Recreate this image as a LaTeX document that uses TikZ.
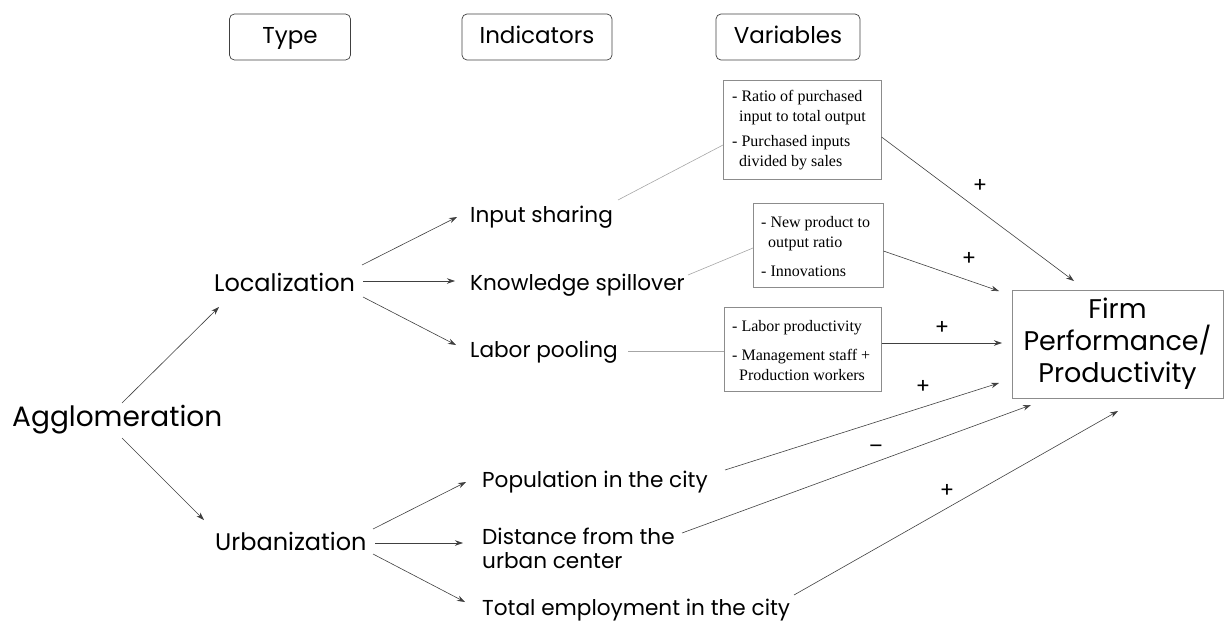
\documentclass[tikz,border=0pt]{standalone}
\usepackage{fontspec}
\setmainfont{Poppins}
\newfontfamily\serifbox{Liberation Serif}
\usetikzlibrary{arrows.meta}
\begin{document}
\begin{tikzpicture}[x=1pt,y=-1pt,
  header/.style={draw=black!75,rounded corners=5pt,line width=0.7pt,
    minimum width=121pt,minimum height=46pt,text height=17pt,text depth=5pt,
    font=\fontsize{23}{26}\selectfont},
  lbl/.style={anchor=base west,inner sep=0pt,font=\fontsize{21.6}{24}\selectfont},
  typ/.style={anchor=base west,inner sep=0pt,font=\fontsize{24}{28}\selectfont},
  varbox/.style={draw=black!45,line width=0.5pt,anchor=north west,inner sep=0pt},
  vartext/.style={anchor=north west,inner sep=0pt,align=left,
    font=\serifbox\fontsize{16}{20}\selectfont},
  arr/.style={draw=black!75,line width=0.6pt,-{Stealth[length=8pt,width=5.5pt]}},
  link/.style={draw=black!35,line width=0.6pt},
  sign/.style={inner sep=0pt,font=\fontsize{21}{21}\selectfont}]
\useasboundingbox (0,0) rectangle (1224,624);

% column headers
\node[header] (hType) at (290,37) {Type};
\node[header,minimum width=150pt] (hInd) at (537,37) {Indicators};
\node[header,minimum width=144pt] (hVar) at (788,37) {Variables};

% type level
\node[anchor=base west,inner sep=0pt,font=\fontsize{28}{32}\selectfont] (agg) at (12,426) {Agglomeration};
\node[typ] (loc) at (214,291) {Localization};
\node[typ] (urb) at (215,550) {Urbanization};

% indicators
\node[lbl] (inp) at (470,222) {Input sharing};
\node[lbl] (know) at (470,290) {Knowledge spillover};
\node[lbl] (lab) at (470,357) {Labor pooling};
\node[lbl] (pop) at (482,487) {Population in the city};
\node[lbl,anchor=west,align=left] (dist) at (482,548) {Distance from the\\urban center};
\node[lbl] (tot) at (482,615) {Total employment in the city};

% variable boxes
\node[varbox,minimum width=158pt,minimum height=99pt] (v1) at (723,80) {};
\node[vartext] (v1t) at (732,90)
  {- Ratio of purchased\\\hspace{7pt}input to total output\\[5pt]- Purchased inputs\\\hspace{7pt}divided by sales};
\node[varbox,minimum width=130pt,minimum height=84pt] (v2) at (753,203) {};
\node[vartext] (v2t) at (761,216)
  {- New product to\\\hspace{7pt}output ratio\\[9pt]- Innovations};
\node[varbox,minimum width=157pt,minimum height=84pt] (v3) at (724,307) {};
\node[vartext] (v3t) at (732,320)
  {- Labor productivity\\[9pt]- Management staff +\\\hspace{7pt}Production workers};

% outcome
\node[draw=black!45,line width=0.5pt,minimum width=211pt,minimum height=108pt,
  align=center,font=\fontsize{27}{32}\selectfont] (firm) at (1117.5,344)
  {Firm\\Performance/\\Productivity};

% arrow end points around the outcome box
\coordinate (e1) at (1074,281);
\coordinate (e2) at (999,291);
\coordinate (e3) at (1002,343);
\coordinate (e4) at (999,383);
\coordinate (e5) at (1031,405);
\coordinate (e6) at (1118,411);

% tree arrows
\draw[arr] (122,403) -- (219,307);
\draw[arr] (122,438) -- (204,520);
\draw[arr] (362,265) -- (457,217);
\draw[arr] (363,281) -- (455,281);
\draw[arr] (363,297) -- (456,345);
\draw[arr] (373,529) -- (466,482);
\draw[arr] (375,543) -- (463,543);
\draw[arr] (373,554) -- (465,602);

% indicator to variable links
\draw[link] (618,200) -- (v1.west |- 0,145);
\draw[link] (688,275) -- (v2.west |- 0,248);
\draw[link] (628,351) -- (v3.west |- 0,351);

% effects on performance
\draw[arr] (v1.east |- 0,137) -- (e1);
\draw[arr] (v2.east |- 0,251) -- (e2);
\draw[arr] (v3.east |- 0,343) -- (e3);
\draw[arr] (725,470) -- (e4);
\draw[arr] (682,533) -- (e5);
\draw[arr] (794,595) -- (e6);

% signs
\node[sign] (s1) at (980,186) {+};
\node[sign] (s2) at (969,259) {+};
\node[sign] (s3) at (942,328) {+};
\node[sign] (s4) at (923,387) {+};
\node[sign] (s5) at (876,449) {\textendash};
\node[sign] (s6) at (947,491) {+};
\end{tikzpicture}
\end{document}
